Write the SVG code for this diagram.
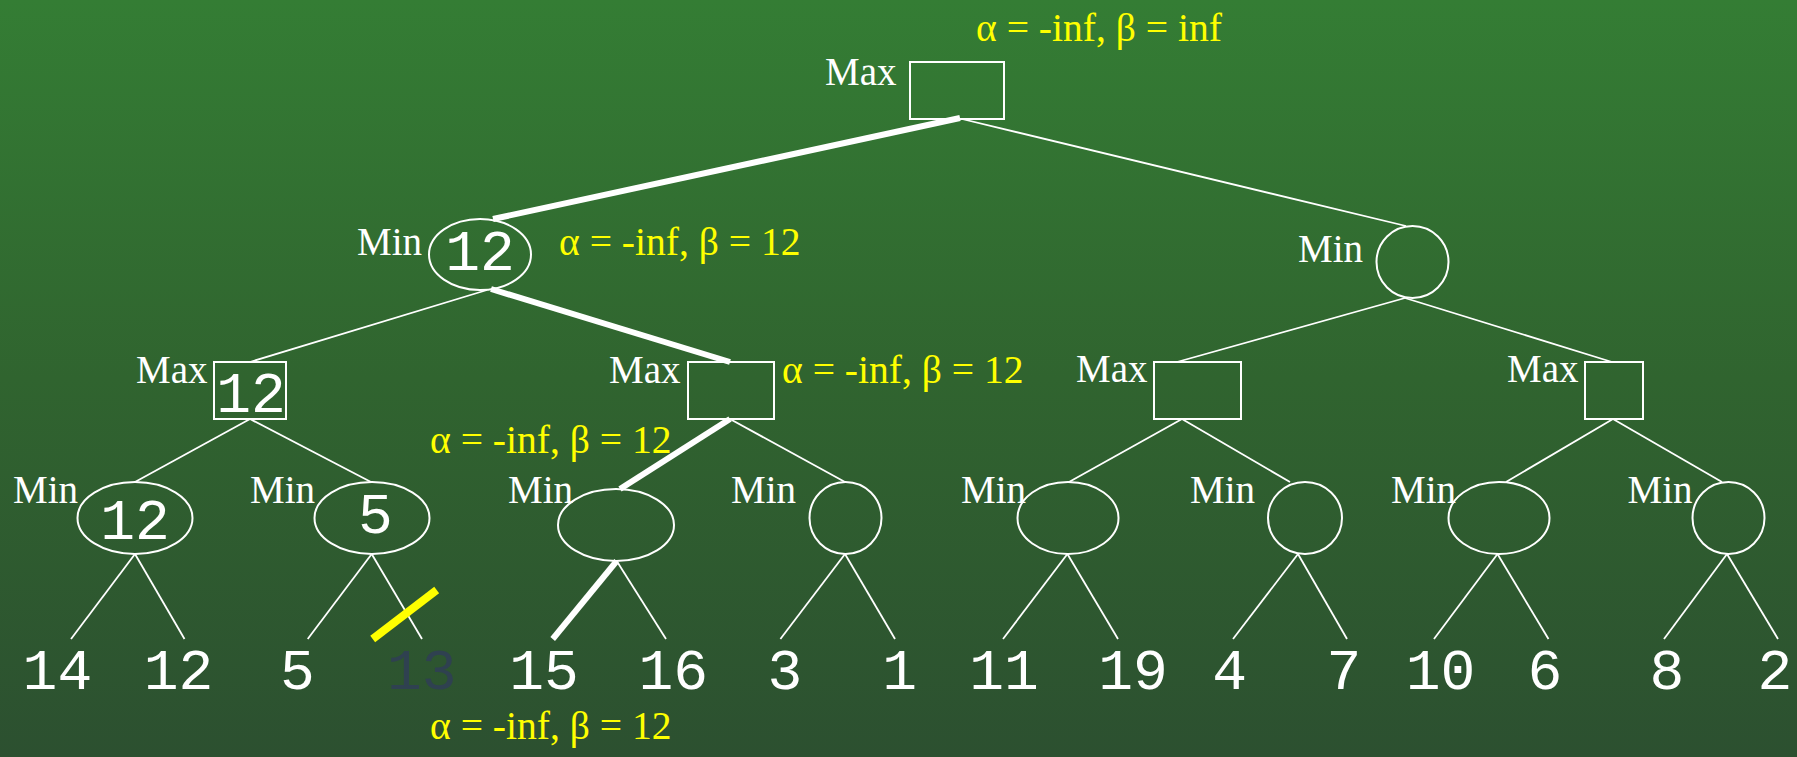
<svg xmlns="http://www.w3.org/2000/svg" width="1797" height="757" viewBox="0 0 1797 757">
<defs>
<linearGradient id="bg" x1="0" y1="0" x2="0" y2="1">
<stop offset="0" stop-color="#347d34"/>
<stop offset="0.5" stop-color="#30642f"/>
<stop offset="1" stop-color="#2c5030"/>
</linearGradient>
<style>
.edge{stroke:#fff;stroke-width:1.8;fill:none}
.thick{stroke:#fff;stroke-width:6;fill:none}
.shape{fill:none;stroke:#fff;stroke-width:2}
.lbl{font-family:"Liberation Serif",serif;font-size:39px;fill:#fff}
.ab{font-family:"Liberation Serif",serif;font-size:39.6px;fill:#ffff00}
.num{font-family:"Liberation Mono",monospace;font-size:58px;fill:#fff;text-anchor:middle}
</style>
</defs>
<rect x="0" y="0" width="1797" height="757" fill="url(#bg)"/>
<g id="connectors">
<line class="thick" x1="960" y1="118" x2="493" y2="219"/>
<line class="edge" x1="962" y1="119" x2="1406" y2="226"/>
<line class="edge" x1="487" y1="290" x2="250" y2="362"/>
<line class="thick" x1="491" y1="289" x2="730" y2="362"/>
<line class="edge" x1="1405" y1="298" x2="1177" y2="362"/>
<line class="edge" x1="1405" y1="298" x2="1612" y2="362"/>
<line class="edge" x1="250" y1="419" x2="135" y2="482"/>
<line class="edge" x1="250" y1="419" x2="371" y2="482"/>
<line class="thick" x1="730" y1="419" x2="620" y2="489"/>
<line class="edge" x1="730" y1="419" x2="845" y2="482"/>
<line class="edge" x1="1182" y1="419" x2="1069" y2="482"/>
<line class="edge" x1="1182" y1="419" x2="1290" y2="482"/>
<line class="edge" x1="1613" y1="419" x2="1506" y2="482"/>
<line class="edge" x1="1613" y1="419" x2="1722" y2="482"/>
<line class="edge" x1="135" y1="554" x2="71" y2="639"/>
<line class="edge" x1="135" y1="554" x2="184.5" y2="639"/>
<line class="edge" x1="371.7" y1="554" x2="307.7" y2="639"/>
<line class="edge" x1="371.7" y1="554" x2="422" y2="639"/>
<line class="thick" x1="616.7" y1="561" x2="552.7" y2="639"/>
<line class="edge" x1="616.7" y1="561" x2="666" y2="639"/>
<line class="edge" x1="845" y1="554" x2="780.4" y2="639"/>
<line class="edge" x1="845" y1="554" x2="895" y2="639"/>
<line class="edge" x1="1067.4" y1="554" x2="1003" y2="639"/>
<line class="edge" x1="1067.4" y1="554" x2="1118" y2="639"/>
<line class="edge" x1="1298" y1="554" x2="1233" y2="639"/>
<line class="edge" x1="1298" y1="554" x2="1347" y2="639"/>
<line class="edge" x1="1497.5" y1="554" x2="1434" y2="639"/>
<line class="edge" x1="1497.5" y1="554" x2="1548.5" y2="639"/>
<line class="edge" x1="1727" y1="554" x2="1664" y2="639"/>
<line class="edge" x1="1727" y1="554" x2="1778" y2="639"/>
<line x1="372.7" y1="639" x2="436.7" y2="590" stroke="#ffff00" stroke-width="8"/>
</g>
<g id="root">
<rect class="shape" x="910" y="62" width="94" height="57"/>
<text class="lbl" x="825" y="85">Max</text>
<text class="ab" x="976" y="41">α = -inf, β = inf</text>
</g>
<g id="minL">
<ellipse class="shape" cx="480" cy="254.5" rx="51" ry="35.5"/>
<text class="lbl" x="357" y="255">Min</text>
<text class="num" x="480" y="270">12</text>
<text class="ab" x="559" y="255">α = -inf, β = 12</text>
</g>
<g id="minR">
<circle class="shape" cx="1412.5" cy="262" r="36"/>
<text class="lbl" x="1298" y="262">Min</text>
</g>
<g id="maxA">
<rect class="shape" x="214" y="362" width="72" height="57"/>
<text class="lbl" x="136" y="383">Max</text>
<text class="num" x="251" y="411.7">12</text>
</g>
<g id="maxB">
<rect class="shape" x="688" y="362" width="86" height="57"/>
<text class="lbl" x="609" y="383">Max</text>
<text class="ab" x="782" y="383">α = -inf, β = 12</text>
<text class="ab" x="430" y="453">α = -inf, β = 12</text>
</g>
<g id="maxC">
<rect class="shape" x="1154" y="362" width="87" height="57"/>
<text class="lbl" x="1076" y="382">Max</text>
</g>
<g id="maxD">
<rect class="shape" x="1585" y="362" width="58" height="57"/>
<text class="lbl" x="1507" y="382">Max</text>
</g>
<g id="min1">
<ellipse class="shape" cx="135" cy="518" rx="57.5" ry="36"/>
<text class="lbl" x="13" y="503">Min</text>
<text class="num" x="135" y="539">12</text>
</g>
<g id="min2">
<ellipse class="shape" cx="372" cy="518" rx="57.5" ry="36"/>
<text class="lbl" x="250" y="503">Min</text>
<text class="num" x="375.5" y="533">5</text>
</g>
<g id="min3">
<ellipse class="shape" cx="616" cy="525" rx="58" ry="36"/>
<text class="lbl" x="508" y="503">Min</text>
</g>
<g id="min4">
<circle class="shape" cx="845.5" cy="518" r="36"/>
<text class="lbl" x="731" y="503">Min</text>
</g>
<g id="min5">
<ellipse class="shape" cx="1068" cy="518" rx="50.5" ry="36"/>
<text class="lbl" x="961" y="503">Min</text>
</g>
<g id="min6">
<ellipse class="shape" cx="1305" cy="518" rx="37" ry="36"/>
<text class="lbl" x="1190" y="503">Min</text>
</g>
<g id="min7">
<ellipse class="shape" cx="1499" cy="518" rx="50.5" ry="36"/>
<text class="lbl" x="1391" y="503">Min</text>
</g>
<g id="min8">
<ellipse class="shape" cx="1728.5" cy="518" rx="36" ry="36"/>
<text class="lbl" x="1627.6" y="503">Min</text>
</g>
<g id="leaves">
<text class="num" x="57.4" y="689">14</text>
<text class="num" x="178.5" y="689">12</text>
<text class="num" x="297.5" y="689">5</text>
<text class="num" x="421.7" y="689" style="fill:#2f4150">13</text>
<text class="num" x="544" y="689">15</text>
<text class="num" x="673.3" y="689">16</text>
<text class="num" x="785" y="689">3</text>
<text class="num" x="899.7" y="689">1</text>
<text class="num" x="1004" y="689">11</text>
<text class="num" x="1133" y="689">19</text>
<text class="num" x="1229.7" y="689">4</text>
<text class="num" x="1343.8" y="689">7</text>
<text class="num" x="1440.5" y="689">10</text>
<text class="num" x="1545" y="689">6</text>
<text class="num" x="1667" y="689">8</text>
<text class="num" x="1775" y="689">2</text>
</g>
<g id="bottom-label">
<text class="ab" x="430" y="739">α = -inf, β = 12</text>
</g>
</svg>
